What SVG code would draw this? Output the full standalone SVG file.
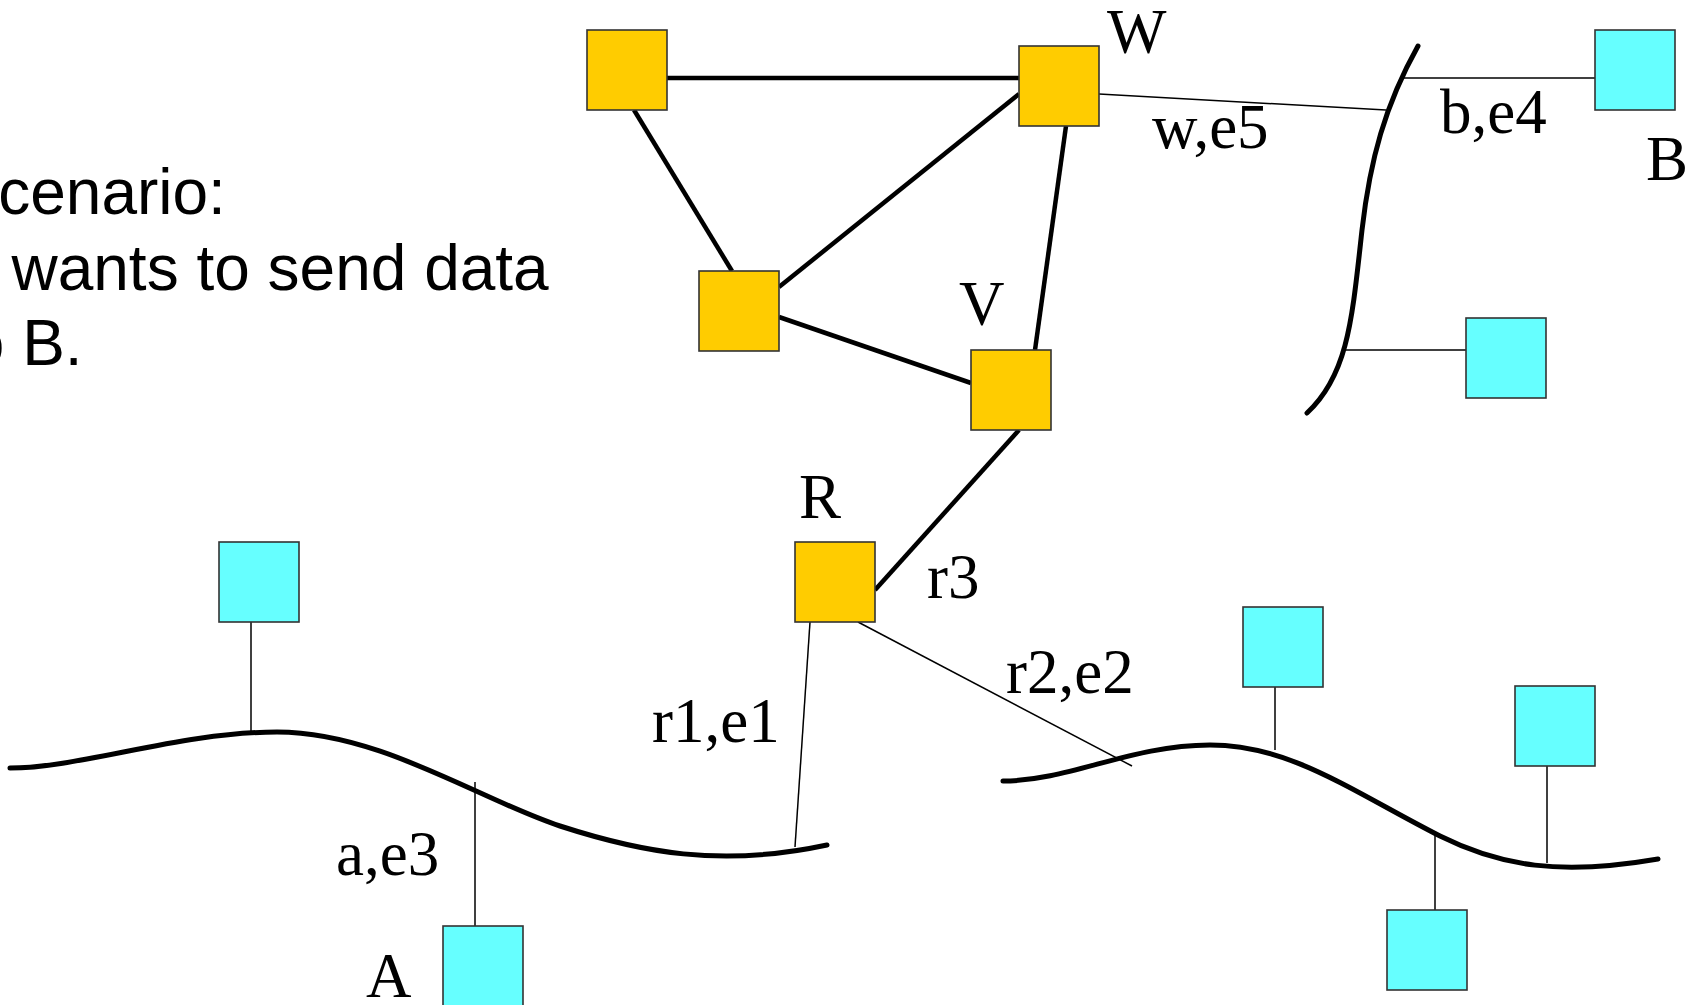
<svg xmlns="http://www.w3.org/2000/svg" width="1692" height="1005" viewBox="0 0 1692 1005">
  <style>
    .router { fill: #FFCC00; stroke: #333333; stroke-width: 1.6; }
    .host { fill: #66FFFF; stroke: #333333; stroke-width: 1.6; }
    .trunk { stroke: #000000; stroke-width: 4.5; fill: none; }
    .drop { stroke: #000000; stroke-width: 1.5; fill: none; }
    .lan { stroke: #000000; stroke-width: 5; fill: none; stroke-linecap: round; }
    .lbl { font-family: "Liberation Serif", "Times New Roman", serif; font-size: 63px; fill: #000000; }
    .note { font-family: "Liberation Sans", Arial, sans-serif; font-size: 64px; fill: #000000; }
  </style>

  <rect x="0" y="0" width="1692" height="1005" fill="#ffffff"/>

  <!-- scenario text on the left, starting past the left margin -->
  <g id="scenario-text">
    <text class="note" x="-44.5" y="214">Scenario:</text>
    <text class="note" x="-45.5" y="290">A wants to send data</text>
    <text class="note" x="-49" y="365">to B.</text>
  </g>

  <!-- LAN segments -->
  <g id="networks">
    <path id="net-a" class="lan" d="M10,768 C80,768 180,732 277,732 C380,732 480,800 560,826 C640,852 720,868 827,845"/>
    <path id="net-b" class="lan" d="M1418,46 C1385,105 1370,160 1362,230 C1352,320 1348,375 1307,413"/>
    <path id="net-c" class="lan" d="M1003,781 C1070,781 1130,745 1210,745 C1290,745 1350,790 1440,836 C1500,866 1560,876 1658,859"/>
  </g>

  <!-- links -->
  <g id="connectors">
    <line class="trunk" x1="667" y1="78" x2="1019" y2="78"/>
    <line class="trunk" x1="634" y1="110" x2="732" y2="271"/>
    <line class="trunk" x1="779" y1="287" x2="1019" y2="94"/>
    <line class="trunk" x1="779" y1="317" x2="971" y2="383"/>
    <line class="trunk" x1="1066" y1="126" x2="1035" y2="350"/>
    <line class="trunk" x1="1019" y1="430" x2="875" y2="590"/>

    <line class="drop" x1="1099" y1="94" x2="1386" y2="110"/>
    <line class="drop" x1="1404" y1="78" x2="1595" y2="78"/>
    <line class="drop" x1="1342" y1="350" x2="1466" y2="350"/>
    <line class="drop" x1="251" y1="622" x2="251" y2="732"/>
    <line class="drop" x1="475" y1="782" x2="475" y2="926"/>
    <line class="drop" x1="810" y1="622" x2="795" y2="847"/>
    <line class="drop" x1="858" y1="622" x2="1132" y2="766"/>
    <line class="drop" x1="1275" y1="687" x2="1275" y2="750"/>
    <line class="drop" x1="1547" y1="766" x2="1547" y2="863"/>
    <line class="drop" x1="1435" y1="833" x2="1435" y2="910"/>
  </g>

  <!-- routers -->
  <g id="router-top"><rect class="router" x="587" y="30" width="80" height="80"/></g>
  <g id="router-w">
    <rect class="router" x="1019" y="46" width="80" height="80"/>
    <text class="lbl" x="1107" y="53">W</text>
  </g>
  <g id="router-mid"><rect class="router" x="699" y="271" width="80" height="80"/></g>
  <g id="router-v">
    <rect class="router" x="971" y="350" width="80" height="80"/>
    <text class="lbl" x="959" y="325">V</text>
  </g>
  <g id="router-r">
    <rect class="router" x="795" y="542" width="80" height="80"/>
    <text class="lbl" x="799" y="518">R</text>
  </g>

  <!-- hosts -->
  <g id="host-b">
    <rect class="host" x="1595" y="30" width="80" height="80"/>
    <text class="lbl" x="1646" y="180">B</text>
  </g>
  <g id="host-b2"><rect class="host" x="1466" y="318" width="80" height="80"/></g>
  <g id="host-a1"><rect class="host" x="219" y="542" width="80" height="80"/></g>
  <g id="host-a">
    <rect class="host" x="443" y="926" width="80" height="80"/>
    <text class="lbl" x="366" y="997">A</text>
  </g>
  <g id="host-c1"><rect class="host" x="1243" y="607" width="80" height="80"/></g>
  <g id="host-c2"><rect class="host" x="1515" y="686" width="80" height="80"/></g>
  <g id="host-c3"><rect class="host" x="1387" y="910" width="80" height="80"/></g>

  <!-- interface labels -->
  <g id="interface-labels">
    <text class="lbl" x="1152" y="148">w,e5</text>
    <text class="lbl" x="1440" y="133">b,e4</text>
    <text class="lbl" x="927" y="598">r3</text>
    <text class="lbl" x="1006" y="693">r2,e2</text>
    <text class="lbl" x="652" y="742">r1,e1</text>
    <text class="lbl" x="336" y="875">a,e3</text>
  </g>
</svg>
